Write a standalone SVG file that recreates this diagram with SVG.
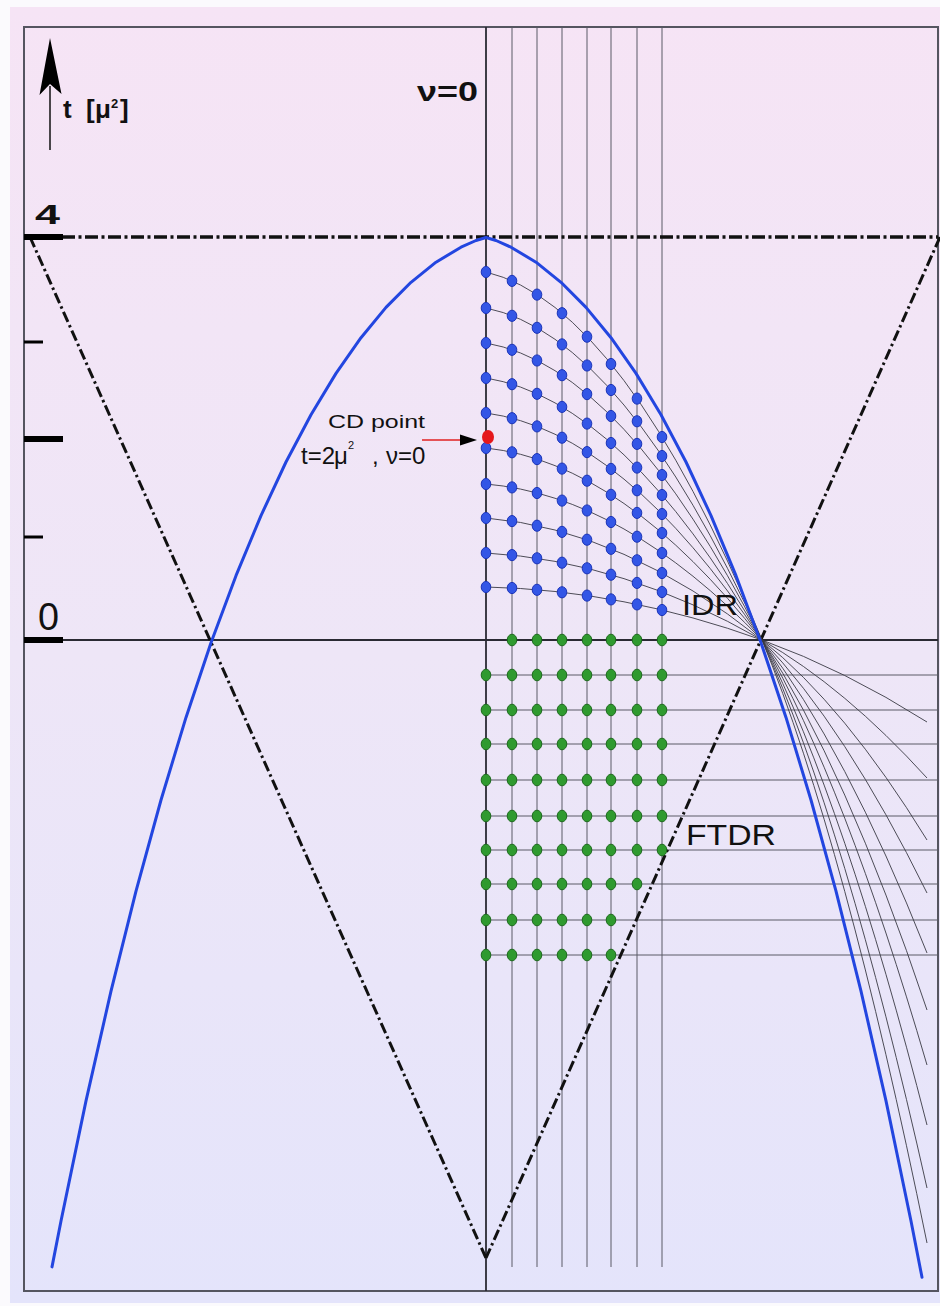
<svg xmlns="http://www.w3.org/2000/svg" xmlns:xlink="http://www.w3.org/1999/xlink" width="940" height="1306" viewBox="0 0 940 1306">
<style>
.grid{stroke:#5a5a66;stroke-width:1;fill:none}
.axis{stroke:#2a2a33;stroke-width:1.8;fill:none}
.dd{stroke:#111;stroke-width:3;fill:none;stroke-dasharray:11 3.5 2.5 3.5}
.ddh{stroke:#111;stroke-width:3.4;fill:none;stroke-dasharray:13 3.5 3 3.5}
.curve{stroke:#3a3a44;stroke-width:0.9;fill:none}
.para{stroke:#2346e0;stroke-width:3;fill:none;stroke-linejoin:round;stroke-linecap:round}
.tick{stroke:#000;fill:none}
.bdot{fill:#3356e6;stroke:#1b33b8;stroke-width:1}
.gdot{fill:#2f9a2f;stroke:#1c6a1c;stroke-width:1}
.lbl{font-family:"Liberation Sans",Arial,sans-serif;fill:#111}
</style>
<defs>
<linearGradient id="bg" x1="0" y1="0" x2="0" y2="1">
<stop offset="0" stop-color="#f6e4f5"/>
<stop offset="0.5" stop-color="#eee6f7"/>
<stop offset="1" stop-color="#e4e4fb"/>
</linearGradient>
<ellipse id="bd" class="bdot" rx="4.8" ry="5.6"/>
<ellipse id="gd" class="gdot" rx="4.8" ry="5.8"/>
</defs>
<rect width="940" height="1306" fill="#fbfafd"/>
<rect x="10" y="7" width="930" height="1296" fill="url(#bg)"/>
<rect x="24" y="27" width="914" height="1264" fill="none" stroke="#555560" stroke-width="2"/>

<g id="grid">
<line class="grid" x1="512" y1="27" x2="512" y2="1267"/>
<line class="grid" x1="537" y1="27" x2="537" y2="1267"/>
<line class="grid" x1="562" y1="27" x2="562" y2="1267"/>
<line class="grid" x1="587" y1="27" x2="587" y2="1267"/>
<line class="grid" x1="611" y1="27" x2="611" y2="1267"/>
<line class="grid" x1="637" y1="27" x2="637" y2="1267"/>
<line class="grid" x1="662" y1="27" x2="662" y2="1267"/>
<line class="grid" x1="486" y1="675" x2="938" y2="675"/>
<line class="grid" x1="486" y1="710" x2="938" y2="710"/>
<line class="grid" x1="486" y1="744" x2="938" y2="744"/>
<line class="grid" x1="486" y1="780" x2="938" y2="780"/>
<line class="grid" x1="486" y1="816" x2="938" y2="816"/>
<line class="grid" x1="486" y1="850" x2="938" y2="850"/>
<line class="grid" x1="486" y1="884" x2="938" y2="884"/>
<line class="grid" x1="486" y1="920" x2="938" y2="920"/>
<line class="grid" x1="486" y1="955" x2="938" y2="955"/>
</g>

<g id="axes">
<line class="axis" x1="24" y1="640" x2="938" y2="640"/>
<line class="axis" x1="486" y1="27" x2="486" y2="1291"/>
<line class="ddh" x1="62" y1="237" x2="938" y2="237"/>
<line class="dd" x1="30" y1="237" x2="486" y2="1258"/>
<line class="dd" x1="940" y1="237" x2="486" y2="1258"/>
<line x1="50" y1="86" x2="50" y2="150" stroke="#111" stroke-width="1.5"/>
<polygon points="50,38 61.5,94 50,84 39.5,95" fill="#000"/>
<line class="tick" x1="24" y1="237" x2="63" y2="237" stroke-width="6"/>
<line class="tick" x1="24" y1="342" x2="43" y2="342" stroke-width="3"/>
<line class="tick" x1="24" y1="439" x2="63" y2="439" stroke-width="6"/>
<line class="tick" x1="24" y1="537" x2="43" y2="537" stroke-width="3"/>
<line class="tick" x1="24" y1="640" x2="63" y2="640" stroke-width="6"/>
</g>

<g id="connectors">
<path class="curve" d="M486,272 Q624,305.2 762,640 Q845,841.4 927,1243"/>
<path class="curve" d="M486,308 Q624,336.1 762,640 Q845,822.8 927,1188"/>
<path class="curve" d="M486,343 Q624,367.3 762,640 Q845,804 927,1125"/>
<path class="curve" d="M486,378 Q624,400.7 762,640 Q845,783.9 927,1065"/>
<path class="curve" d="M486,413 Q624,431.8 762,640 Q845,765.2 927,1010"/>
<path class="curve" d="M486,448 Q624,463 762,640 Q845,746.5 927,953"/>
<path class="curve" d="M486,484 Q624,496 762,640 Q845,726.6 927,893"/>
<path class="curve" d="M486,518 Q624,529.7 762,640 Q845,706.4 927,840"/>
<path class="curve" d="M486,553 Q624,560.8 762,640 Q845,687.6 927,778"/>
<path class="curve" d="M486,587 Q624,590.1 762,640 Q845,670 927,722"/>
<line x1="422" y1="440" x2="462" y2="440" stroke="#e02020" stroke-width="1.6"/>
<polygon points="477,440 460,434.5 460,445.5" fill="#000"/>
</g>

<g id="boundary">
<polyline class="para" points="52,1266.9 61,1221 86,1100.9 111,991.1 136,891.1 161,800 186,717.4 211,642.8 236,575.7 261,515.6 286,462 311,414.8 336,373.4 361,337.7 386,307.4 411,282.3 436,262.2 461,247.2 476,240.5 486,237.5 496,240.5 511,247.2 536,262.2 561,282.3 586,307.4 611,337.7 636,373.4 661,414.8 686,462 711,515.6 736,575.7 761,642.8 786,717.4 811,800 836,891.1 861,991.1 886,1100.9 911,1221 922,1277.3"/>
</g>

<g id="blue-dots">
<use href="#bd" x="486" y="272"/><use href="#bd" x="512" y="280.9"/><use href="#bd" x="537" y="294.6"/><use href="#bd" x="562" y="313.2"/><use href="#bd" x="587" y="336.7"/><use href="#bd" x="611" y="364"/><use href="#bd" x="637" y="398.6"/><use href="#bd" x="662" y="437"/>
<use href="#bd" x="486" y="308"/><use href="#bd" x="512" y="315.8"/><use href="#bd" x="537" y="327.8"/><use href="#bd" x="562" y="344.4"/><use href="#bd" x="587" y="365.5"/><use href="#bd" x="611" y="390"/><use href="#bd" x="637" y="421.3"/><use href="#bd" x="662" y="456"/>
<use href="#bd" x="486" y="343"/><use href="#bd" x="512" y="349.8"/><use href="#bd" x="537" y="360.5"/><use href="#bd" x="562" y="375.2"/><use href="#bd" x="587" y="394.1"/><use href="#bd" x="611" y="416"/><use href="#bd" x="637" y="443.9"/><use href="#bd" x="662" y="475"/>
<use href="#bd" x="486" y="378"/><use href="#bd" x="512" y="384.2"/><use href="#bd" x="537" y="393.8"/><use href="#bd" x="562" y="406.9"/><use href="#bd" x="587" y="423.6"/><use href="#bd" x="611" y="443"/><use href="#bd" x="637" y="467.6"/><use href="#bd" x="662" y="495"/>
<use href="#bd" x="486" y="413"/><use href="#bd" x="512" y="418.2"/><use href="#bd" x="537" y="426.4"/><use href="#bd" x="562" y="437.7"/><use href="#bd" x="587" y="452.1"/><use href="#bd" x="611" y="468.9"/><use href="#bd" x="637" y="490.3"/><use href="#bd" x="662" y="514"/>
<use href="#bd" x="486" y="448"/><use href="#bd" x="512" y="452.3"/><use href="#bd" x="537" y="459.1"/><use href="#bd" x="562" y="468.6"/><use href="#bd" x="587" y="480.7"/><use href="#bd" x="611" y="494.8"/><use href="#bd" x="637" y="512.9"/><use href="#bd" x="662" y="533"/>
<use href="#bd" x="486" y="484"/><use href="#bd" x="512" y="487.4"/><use href="#bd" x="537" y="493"/><use href="#bd" x="562" y="500.6"/><use href="#bd" x="587" y="510.5"/><use href="#bd" x="611" y="522"/><use href="#bd" x="637" y="536.7"/><use href="#bd" x="662" y="553"/>
<use href="#bd" x="486" y="518"/><use href="#bd" x="512" y="521.1"/><use href="#bd" x="537" y="525.7"/><use href="#bd" x="562" y="531.9"/><use href="#bd" x="587" y="539.7"/><use href="#bd" x="611" y="548.8"/><use href="#bd" x="637" y="560.3"/><use href="#bd" x="662" y="573"/>
<use href="#bd" x="486" y="553"/><use href="#bd" x="512" y="555.1"/><use href="#bd" x="537" y="558.3"/><use href="#bd" x="562" y="562.7"/><use href="#bd" x="587" y="568.3"/><use href="#bd" x="611" y="574.7"/><use href="#bd" x="637" y="582.9"/><use href="#bd" x="662" y="592"/>
<use href="#bd" x="486" y="587"/><use href="#bd" x="512" y="588"/><use href="#bd" x="537" y="589.8"/><use href="#bd" x="562" y="592.3"/><use href="#bd" x="587" y="595.6"/><use href="#bd" x="611" y="599.4"/><use href="#bd" x="637" y="604.4"/><use href="#bd" x="662" y="610"/>
</g>

<g id="green-dots">
<use href="#gd" x="512" y="640"/><use href="#gd" x="537" y="640"/><use href="#gd" x="562" y="640"/><use href="#gd" x="587" y="640"/><use href="#gd" x="611" y="640"/><use href="#gd" x="637" y="640"/><use href="#gd" x="662" y="640"/>
<use href="#gd" x="486" y="675"/><use href="#gd" x="512" y="675"/><use href="#gd" x="537" y="675"/><use href="#gd" x="562" y="675"/><use href="#gd" x="587" y="675"/><use href="#gd" x="611" y="675"/><use href="#gd" x="637" y="675"/><use href="#gd" x="662" y="675"/>
<use href="#gd" x="486" y="710"/><use href="#gd" x="512" y="710"/><use href="#gd" x="537" y="710"/><use href="#gd" x="562" y="710"/><use href="#gd" x="587" y="710"/><use href="#gd" x="611" y="710"/><use href="#gd" x="637" y="710"/><use href="#gd" x="662" y="710"/>
<use href="#gd" x="486" y="744"/><use href="#gd" x="512" y="744"/><use href="#gd" x="537" y="744"/><use href="#gd" x="562" y="744"/><use href="#gd" x="587" y="744"/><use href="#gd" x="611" y="744"/><use href="#gd" x="637" y="744"/><use href="#gd" x="662" y="744"/>
<use href="#gd" x="486" y="780"/><use href="#gd" x="512" y="780"/><use href="#gd" x="537" y="780"/><use href="#gd" x="562" y="780"/><use href="#gd" x="587" y="780"/><use href="#gd" x="611" y="780"/><use href="#gd" x="637" y="780"/><use href="#gd" x="662" y="780"/>
<use href="#gd" x="486" y="816"/><use href="#gd" x="512" y="816"/><use href="#gd" x="537" y="816"/><use href="#gd" x="562" y="816"/><use href="#gd" x="587" y="816"/><use href="#gd" x="611" y="816"/><use href="#gd" x="637" y="816"/><use href="#gd" x="662" y="816"/>
<use href="#gd" x="486" y="850"/><use href="#gd" x="512" y="850"/><use href="#gd" x="537" y="850"/><use href="#gd" x="562" y="850"/><use href="#gd" x="587" y="850"/><use href="#gd" x="611" y="850"/><use href="#gd" x="637" y="850"/><use href="#gd" x="662" y="850"/>
<use href="#gd" x="486" y="884"/><use href="#gd" x="512" y="884"/><use href="#gd" x="537" y="884"/><use href="#gd" x="562" y="884"/><use href="#gd" x="587" y="884"/><use href="#gd" x="611" y="884"/><use href="#gd" x="637" y="884"/>
<use href="#gd" x="486" y="920"/><use href="#gd" x="512" y="920"/><use href="#gd" x="537" y="920"/><use href="#gd" x="562" y="920"/><use href="#gd" x="587" y="920"/><use href="#gd" x="611" y="920"/>
<use href="#gd" x="486" y="955"/><use href="#gd" x="512" y="955"/><use href="#gd" x="537" y="955"/><use href="#gd" x="562" y="955"/><use href="#gd" x="587" y="955"/><use href="#gd" x="611" y="955"/>
</g>

<g id="cd-point">
<ellipse cx="488" cy="437" rx="6" ry="7" fill="#e5171c"/>
<text class="lbl" x="328" y="428" font-size="18" textLength="97" lengthAdjust="spacingAndGlyphs">CD point</text>
<text class="lbl" x="301" y="464" font-size="24">t=2<tspan x="334">μ</tspan><tspan x="348" dy="-15" font-size="11">2</tspan><tspan x="372" dy="15">,</tspan><tspan x="386">ν=0</tspan></text>
</g>

<g id="labels">
<text class="lbl" x="417" y="101" font-size="28" font-weight="bold" textLength="61" lengthAdjust="spacingAndGlyphs">ν=0</text>
<text class="lbl" font-size="26" font-weight="bold" y="118"><tspan x="63">t</tspan><tspan x="86">[</tspan><tspan x="95">μ</tspan><tspan x="111" y="108" font-size="13">2</tspan><tspan x="120" y="118">]</tspan></text>
<text class="lbl" x="35" y="224" font-size="27" font-weight="bold" textLength="25" lengthAdjust="spacingAndGlyphs">4</text>
<text class="lbl" x="38" y="630" font-size="38" textLength="21" lengthAdjust="spacingAndGlyphs">0</text>
<text class="lbl" x="682" y="615" font-size="30" textLength="56" lengthAdjust="spacingAndGlyphs">IDR</text>
<text class="lbl" x="686" y="845" font-size="30" textLength="90" lengthAdjust="spacingAndGlyphs">FTDR</text>
</g>
</svg>
